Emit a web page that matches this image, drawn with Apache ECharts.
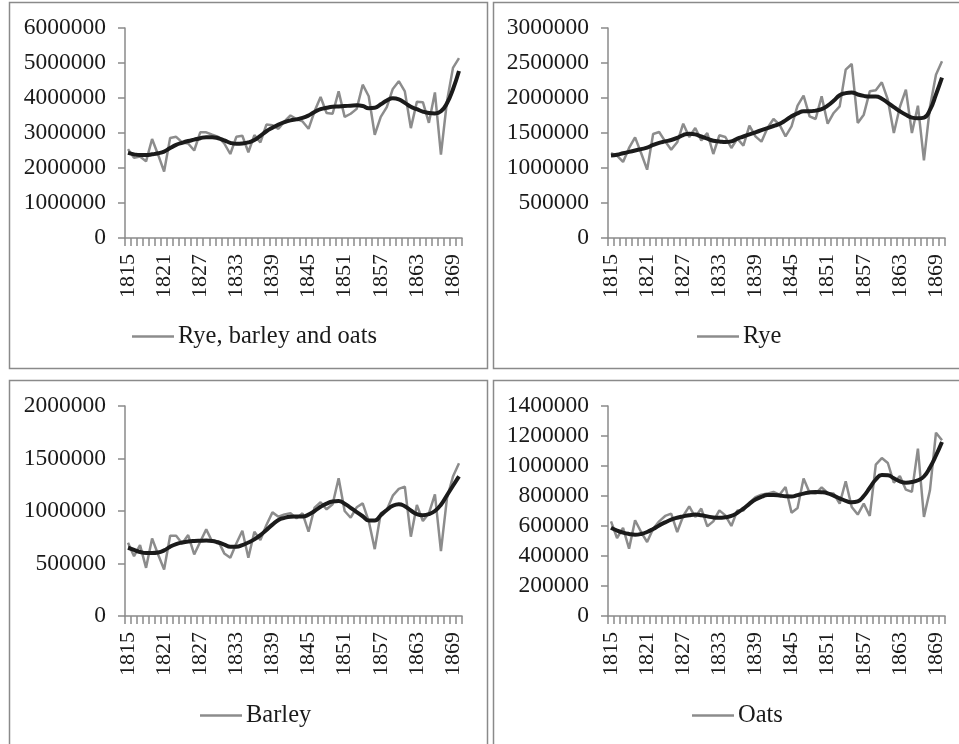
<!DOCTYPE html>
<html>
<head>
<meta charset="utf-8">
<script src="https://cdn.jsdelivr.net/npm/echarts@6/dist/echarts.min.js"></script>
<style>
  html, body { margin: 0; padding: 0; background: #ffffff; }
  #chart { width: 959px; height: 744px; }
</style>
</head>
<body>
<div id="chart"></div>
<script>
// Annual harvest, 1815-1870
const years = [];
for (let y = 1815; y <= 1870; y++) years.push(String(y));

// Rye, barley and oats combined
const totalAnnual = [2540000, 2290000, 2330000, 2190000, 2830000, 2380000, 1900000, 2860000, 2890000, 2730000,
  2700000, 2500000, 3020000, 3020000, 2950000, 2890000, 2700000, 2400000, 2890000, 2920000,
  2450000, 2940000, 2730000, 3240000, 3220000, 3120000, 3330000, 3500000, 3400000, 3330000,
  3120000, 3620000, 4030000, 3570000, 3550000, 4190000, 3460000, 3550000, 3690000, 4380000,
  4050000, 2950000, 3460000, 3740000, 4260000, 4480000, 4190000, 3140000, 3890000, 3880000,
  3290000, 4160000, 2380000, 3900000, 4860000, 5140000];
const totalTrend = [2430000, 2390000, 2370000, 2370000, 2390000, 2420000, 2470000, 2570000, 2660000, 2720000,
  2770000, 2810000, 2850000, 2880000, 2880000, 2850000, 2790000, 2720000, 2690000, 2700000,
  2730000, 2800000, 2920000, 3050000, 3150000, 3240000, 3310000, 3360000, 3390000, 3430000,
  3500000, 3600000, 3680000, 3720000, 3750000, 3760000, 3770000, 3780000, 3790000, 3770000,
  3710000, 3720000, 3820000, 3930000, 3990000, 3960000, 3860000, 3750000, 3680000, 3610000,
  3570000, 3560000, 3620000, 3850000, 4250000, 4770000];

// Rye
const ryeAnnual = [1214000, 1176000, 1086000, 1286000, 1438000, 1214000, 976000, 1486000, 1514000, 1381000,
  1262000, 1367000, 1633000, 1443000, 1571000, 1395000, 1500000, 1200000, 1467000, 1443000,
  1286000, 1419000, 1319000, 1605000, 1452000, 1376000, 1571000, 1700000, 1619000, 1452000,
  1595000, 1890000, 2033000, 1738000, 1700000, 2024000, 1633000, 1786000, 1881000, 2405000,
  2486000, 1643000, 1762000, 2095000, 2110000, 2224000, 1976000, 1500000, 1871000, 2119000,
  1500000, 1890000, 1110000, 1871000, 2333000, 2524000];
const ryeTrend = [1180000, 1190000, 1210000, 1230000, 1250000, 1270000, 1290000, 1330000, 1360000, 1380000,
  1400000, 1430000, 1470000, 1490000, 1480000, 1450000, 1420000, 1390000, 1380000, 1370000,
  1380000, 1420000, 1450000, 1480000, 1510000, 1540000, 1570000, 1600000, 1630000, 1680000,
  1740000, 1780000, 1810000, 1810000, 1820000, 1840000, 1890000, 1960000, 2040000, 2070000,
  2080000, 2050000, 2030000, 2020000, 2020000, 1990000, 1930000, 1870000, 1810000, 1760000,
  1720000, 1710000, 1720000, 1830000, 2050000, 2290000];

// Barley
const barleyAnnual = [697000, 570000, 675000, 459000, 739000, 586000, 443000, 764000, 764000, 691000,
  771000, 586000, 707000, 825000, 707000, 713000, 596000, 554000, 691000, 812000,
  554000, 803000, 723000, 866000, 987000, 946000, 968000, 978000, 930000, 978000,
  803000, 1032000, 1083000, 1016000, 1064000, 1312000, 1000000, 936000, 1035000, 1073000,
  904000, 637000, 978000, 1010000, 1146000, 1210000, 1232000, 755000, 1057000, 904000,
  978000, 1159000, 618000, 1121000, 1328000, 1455000];
const barleyTrend = [650000, 630000, 610000, 600000, 600000, 605000, 625000, 660000, 685000, 700000,
  710000, 715000, 717000, 718000, 715000, 700000, 680000, 660000, 660000, 675000,
  700000, 730000, 770000, 820000, 870000, 915000, 935000, 945000, 947000, 948000,
  965000, 1000000, 1040000, 1070000, 1090000, 1095000, 1070000, 1030000, 990000, 950000,
  910000, 910000, 960000, 1010000, 1050000, 1065000, 1045000, 1005000, 970000, 960000,
  970000, 1000000, 1060000, 1150000, 1240000, 1330000];

// Oats
const oatsAnnual = [631000, 520000, 587000, 449000, 638000, 560000, 493000, 582000, 631000, 667000,
  682000, 560000, 667000, 731000, 660000, 716000, 598000, 631000, 704000, 671000,
  600000, 704000, 704000, 756000, 793000, 809000, 816000, 827000, 809000, 860000,
  689000, 720000, 916000, 822000, 816000, 858000, 820000, 816000, 749000, 898000,
  727000, 676000, 749000, 667000, 1009000, 1053000, 1020000, 889000, 933000, 842000,
  827000, 1116000, 660000, 838000, 1222000, 1171000];
const oatsTrend = [589000, 570000, 556000, 547000, 542000, 547000, 560000, 580000, 604000, 624000,
  642000, 655000, 664000, 672000, 676000, 672000, 664000, 657000, 655000, 659000,
  667000, 688000, 716000, 748000, 776000, 795000, 806000, 807000, 804000, 798000,
  797000, 806000, 816000, 824000, 827000, 825000, 818000, 802000, 784000, 768000,
  758000, 764000, 800000, 855000, 910000, 940000, 938000, 918000, 898000, 889000,
  893000, 905000, 930000, 990000, 1070000, 1160000];

// Panel set-up: label, data, y scale, plot rectangle, legend anchor, frame
const panels = [
  { name: 'Rye, barley and oats', annual: totalAnnual, trend: totalTrend, max: 6000000, step: 1000000,
    grid: { left: 125, top: 28, width: 337, height: 210 }, legend: { left: 127, top: 319 },
    frame: { x: 9.5, y: 2.5, width: 478, height: 366 } },
  { name: 'Rye', annual: ryeAnnual, trend: ryeTrend, max: 3000000, step: 500000,
    grid: { left: 608, top: 28, width: 337, height: 210 }, legend: { left: 692, top: 319 },
    frame: { x: 493.5, y: 2.5, width: 470, height: 366 } },
  { name: 'Barley', annual: barleyAnnual, trend: barleyTrend, max: 2000000, step: 500000,
    grid: { left: 125, top: 406, width: 337, height: 210 }, legend: { left: 195, top: 698 },
    frame: { x: 9.5, y: 380.5, width: 478, height: 370 } },
  { name: 'Oats', annual: oatsAnnual, trend: oatsTrend, max: 1400000, step: 200000,
    grid: { left: 608, top: 406, width: 337, height: 210 }, legend: { left: 687, top: 698 },
    frame: { x: 493.5, y: 380.5, width: 470, height: 370 } }
];

const FONT = "'Liberation Serif', 'DejaVu Serif', serif";
const TEXT = '#1a1a1a';
const AXIS = '#8a8a8a';
const GREY = '#8c8c8c';
const DARK = '#1b1b1b';

const option = {
  backgroundColor: '#ffffff',
  animation: false,
  textStyle: { fontFamily: FONT, color: TEXT },
  grid: [], xAxis: [], yAxis: [], series: [], legend: [],
  graphic: []
};

panels.forEach((p, i) => {
  option.grid.push(Object.assign({ containLabel: false }, p.grid));
  option.xAxis.push({
    type: 'category', gridIndex: i, data: years, boundaryGap: true,
    axisLine: { lineStyle: { color: AXIS, width: 1.5 } },
    axisTick: { show: true, interval: 0, length: 8, lineStyle: { color: AXIS, width: 1.5 } },
    axisLabel: { interval: 5, rotate: 90, margin: 16, fontSize: 22, fontFamily: FONT, color: TEXT },
    splitLine: { show: false }
  });
  option.yAxis.push({
    type: 'value', gridIndex: i, min: 0, max: p.max, interval: p.step,
    axisLine: { show: true, lineStyle: { color: AXIS, width: 1.5 } },
    axisTick: { show: true, length: 7, lineStyle: { color: AXIS, width: 1.5 } },
    axisLabel: { margin: 19, fontSize: 23.5, fontFamily: FONT, color: TEXT,
      formatter: (v) => String(v) },
    splitLine: { show: false }
  });
  option.series.push({
    name: p.name, type: 'line', xAxisIndex: i, yAxisIndex: i, data: p.annual,
    symbol: 'none', lineStyle: { color: GREY, width: 2.5 }, itemStyle: { color: GREY },
    z: 2
  });
  option.series.push({
    name: p.name + ' trend', type: 'line', xAxisIndex: i, yAxisIndex: i, data: p.trend,
    symbol: 'none', smooth: 0.5, lineStyle: { color: DARK, width: 4 }, itemStyle: { color: DARK },
    z: 3
  });
  option.legend.push({
    data: [p.name], left: p.legend.left, top: p.legend.top,
    icon: 'rect', itemWidth: 42, itemHeight: 2.5, itemGap: 10,
    selectedMode: false,
    textStyle: { fontSize: 24.5, fontFamily: FONT, color: TEXT, padding: [0, 0, 0, -1] }
  });
  option.graphic.push({
    type: 'rect', silent: true, z: -1,
    shape: p.frame,
    style: { fill: 'none', stroke: AXIS, lineWidth: 1.5 }
  });
});

const chart = echarts.init(document.getElementById('chart'), null, { renderer: 'canvas' });
chart.setOption(option);
</script>
</body>
</html>
